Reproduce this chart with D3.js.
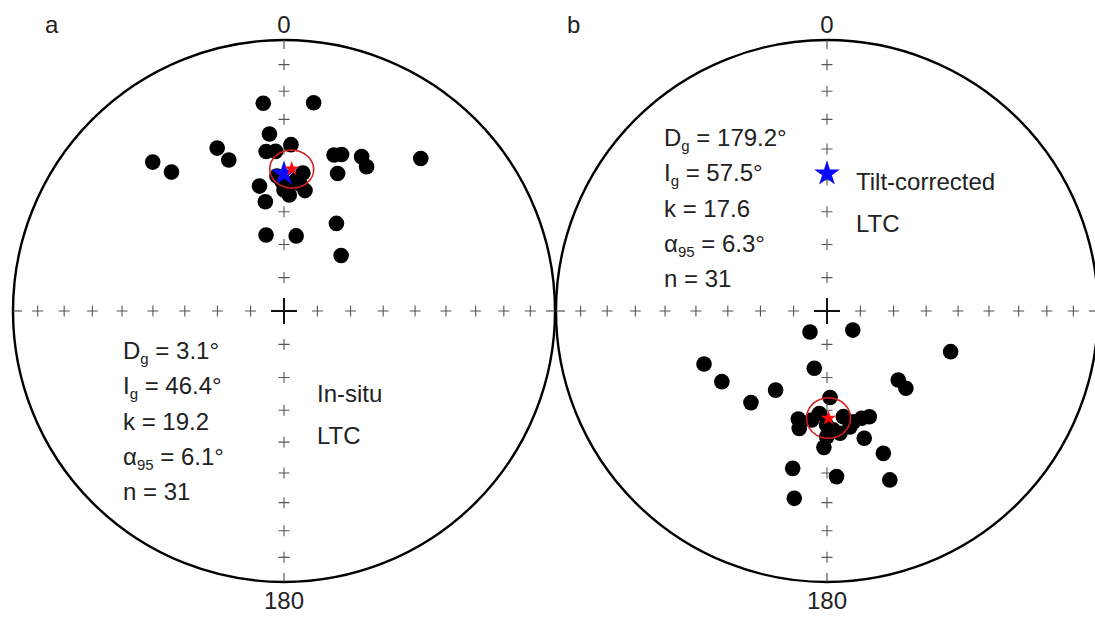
<!DOCTYPE html>
<html>
<head>
<meta charset="utf-8">
<script src="https://cdn.jsdelivr.net/npm/d3@7"></script>
<style>
  html, body { margin: 0; padding: 0; background: #fff; }
  svg { display: block; }
  text { font-family: Arial, "Liberation Sans", sans-serif; fill: #222; }
</style>
</head>
<body>
<svg id="chart" width="1095" height="619"></svg>
<script>
// Low-temperature component (LTC) directions, declination / inclination in degrees
const insituDec = [354.3, 8.1, 355.3, 337.7, 339.9, 318.6, 321.0, 353.6, 357.0, 2.4,
                   17.8, 20.2, 26.7, 29.8, 21.3, 41.9, 348.9, 350.3, 2.6, 9.9,
                   7.8, 346.7, 9.2, 30.9, 45.8, 359.1, 5.2, 7.2, 1.4, 357.0, 0.0];
const insituInc = [24.0, 23.4, 34.8, 35.3, 40.4, 27.6, 34.4, 40.5, 40.7, 38.5,
                   39.4, 38.4, 36.4, 38.6, 44.7, 25.4, 51.2, 56.4, 54.7, 52.8,
                   47.4, 66.5, 67.1, 59.1, 66.0, 50.5, 49.9, 51.0, 51.9, 48.7, 53.2];

const tiltDec = [219.0, 126.5, 108.2, 246.7, 236.1, 219.7, 213.0, 192.5, 134.1, 134.4,
                 178.0, 194.9, 193.3, 184.3, 171.2, 168.8, 162.1, 158.2, 163.7, 180.1,
                 181.3, 158.4, 192.3, 176.7, 159.6, 189.9, 177.0, 173.9, 180.2, 166.6, 188.0];
const tiltInc = [81.9, 80.4, 50.3, 49.1, 51.4, 53.8, 61.5, 72.4, 60.0, 56.5,
                 63.9, 56.1, 53.3, 58.9, 57.6, 54.1, 55.8, 55.4, 49.5, 51.7,
                 48.3, 42.9, 40.3, 38.7, 33.9, 30.5, 53.8, 52.6, 55.4, 55.4, 56.6];

// Fisher statistics of each set
const meanInsitu = { dec: 3.1, inc: 46.4, k: 19.2, a95: 6.1, n: 31 };
const meanTilt   = { dec: 179.2, inc: 57.5, k: 17.6, a95: 6.3, n: 31 };

// Reference field direction (blue star)
const refDir = { dec: 0, inc: 48 };

// Inclination ticks along the four cardinal axes
const tickIncs = [10, 20, 30, 40, 50, 60, 70, 80];
const tickAzimuths = [0, 90, 180, 270];
const azimuthLabels = ["0", "180"];
const panelLetters = ["a", "b"];
const stateLabels = [["In-situ", "LTC"], ["Tilt-corrected", "LTC"]];

const svg = d3.select("#chart");
const R = 271;

const panels = [
  { cx: 284, cy: 311, dec: insituDec, inc: insituInc, mean: meanInsitu,
    letterX: 45, statsX: 123, statsY: 359, labelX: 317, labelY: 402 },
  { cx: 827, cy: 311, dec: tiltDec, inc: tiltInc, mean: meanTilt,
    letterX: 567, statsX: 664, statsY: 146, labelX: 856, labelY: 190 }
];

// Lower-hemisphere equal-area (Schmidt) net: the pole is the centre,
// a direction (D, I) maps to lon = 180 - D, lat = I.
const toLonLat = (d, i) => [180 - d, i];

panels.forEach((p, idx) => {
  const proj = d3.geoAzimuthalEqualArea()
    .rotate([0, -90])
    .scale(R / Math.SQRT2)
    .translate([p.cx, p.cy]);
  const path = d3.geoPath(proj);
  const g = svg.append("g");

  // primitive circle
  g.append("circle")
    .attr("cx", p.cx).attr("cy", p.cy).attr("r", R)
    .attr("fill", "none").attr("stroke", "#000").attr("stroke-width", 2.4);

  // small crosses every 10 degrees of inclination
  const ticks = [];
  tickAzimuths.forEach(az => tickIncs.forEach(inc => ticks.push(proj(toLonLat(az, inc)))));
  const s = 5.5;
  g.append("g").selectAll("path").data(ticks).join("path")
    .attr("d", d => `M${d[0] - s},${d[1]}H${d[0] + s}M${d[0]},${d[1] - s}V${d[1] + s}`)
    .attr("stroke", "#555").attr("stroke-width", 1.1).attr("fill", "none");

  // short ticks at the primitive
  g.append("g").selectAll("path").data(tickAzimuths).join("path")
    .attr("d", az => {
      const a = proj(toLonLat(az, 0)), b = proj(toLonLat(az, 9));
      const dx = b[0] - a[0], dy = b[1] - a[1], len = Math.hypot(dx, dy);
      return `M${a[0]},${a[1]}L${a[0] + dx / len * 9},${a[1] + dy / len * 9}`;
    })
    .attr("stroke", "#444").attr("stroke-width", 1.1);

  // centre cross
  const c = proj(toLonLat(0, 90));
  g.append("path")
    .attr("d", `M${c[0] - 13},${c[1]}H${c[0] + 13}M${c[0]},${c[1] - 13}V${c[1] + 13}`)
    .attr("stroke", "#111").attr("stroke-width", 2);

  // specimen directions
  g.append("g").selectAll("circle").data(d3.range(p.dec.length)).join("circle")
    .attr("cx", i => proj(toLonLat(p.dec[i], p.inc[i]))[0])
    .attr("cy", i => proj(toLonLat(p.dec[i], p.inc[i]))[1])
    .attr("r", 7.8).attr("fill", "#000");

  // reference direction
  const rp = proj(toLonLat(refDir.dec, refDir.inc));
  g.append("path")
    .attr("d", d3.symbol(d3.symbolStar, 13.5 * 13.5 / 0.8908)())
    .attr("transform", `translate(${rp[0]},${rp[1]})`)
    .attr("fill", "#0a0aff");

  // mean direction and its alpha95 cone
  const mp = proj(toLonLat(p.mean.dec, p.mean.inc));
  g.append("path")
    .attr("d", d3.symbol(d3.symbolStar, 8 * 8 / 0.8908)())
    .attr("transform", `translate(${mp[0]},${mp[1]})`)
    .attr("fill", "#ff0a0a");
  g.append("path")
    .datum(d3.geoCircle().center(toLonLat(p.mean.dec, p.mean.inc)).radius(p.mean.a95).precision(2)())
    .attr("d", path)
    .attr("fill", "none").attr("stroke", "#d81e1e").attr("stroke-width", 1.6);

  // azimuth labels and panel letter
  g.append("text").attr("x", p.cx).attr("y", 33).attr("text-anchor", "middle")
    .attr("font-size", 24).text(azimuthLabels[0]);
  g.append("text").attr("x", p.cx).attr("y", 609).attr("text-anchor", "middle")
    .attr("font-size", 24).text(azimuthLabels[1]);
  g.append("text").attr("x", p.letterX).attr("y", 33)
    .attr("font-size", 24).text(panelLetters[idx]);

  // statistics block
  const m = p.mean;
  const lines = [
    [["D"], ["g", true], [` = ${m.dec.toFixed(1)}°`]],
    [["I"], ["g", true], [` = ${m.inc.toFixed(1)}°`]],
    [[`k = ${m.k.toFixed(1)}`]],
    [["α"], ["95", true], [` = ${m.a95.toFixed(1)}°`]],
    [[`n = ${m.n}`]]
  ];
  lines.forEach((segs, li) => {
    const t = g.append("text").attr("x", p.statsX).attr("y", p.statsY + li * 35.3)
      .attr("font-size", 24);
    let shifted = false;
    segs.forEach(([str, sub]) => {
      const ts = t.append("tspan").text(str);
      if (sub) { ts.attr("font-size", 15).attr("dy", 5); shifted = true; }
      else if (shifted) { ts.attr("dy", -5); shifted = false; }
    });
  });

  // state label
  stateLabels[idx].forEach((str, li) => {
    g.append("text").attr("x", p.labelX).attr("y", p.labelY + li * 42.3)
      .attr("font-size", 24).text(str);
  });
});
</script>
</body>
</html>
